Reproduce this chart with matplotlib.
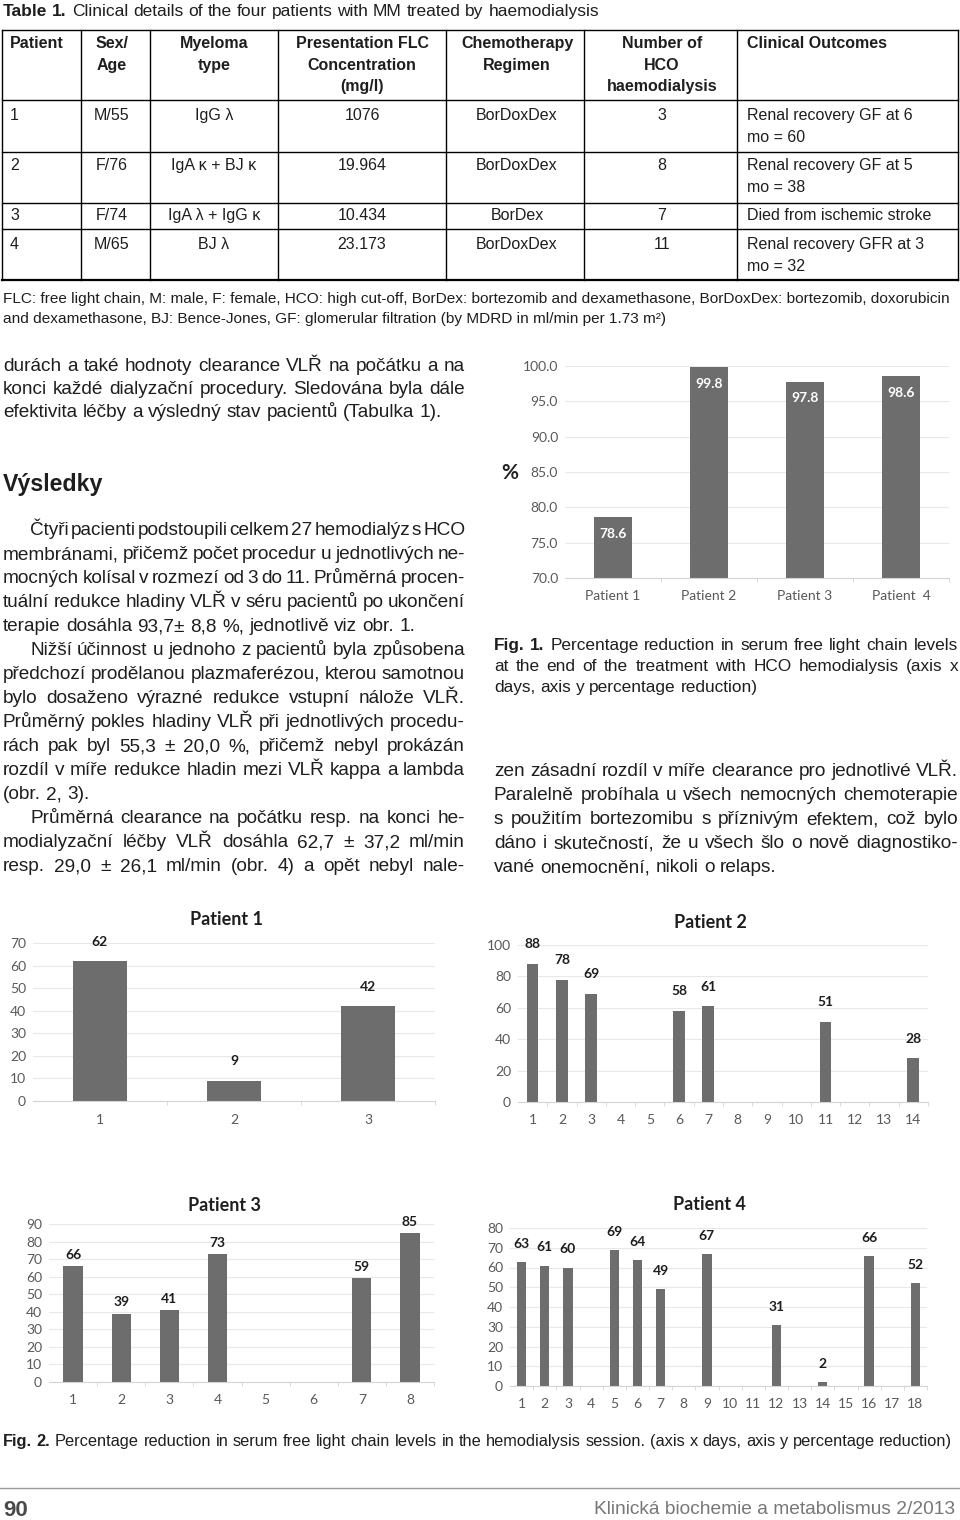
import matplotlib
matplotlib.use('Agg')
import matplotlib.pyplot as plt
from matplotlib.lines import Line2D
import numpy as np

# ---------------- data ----------------
fig1_labels = ['Patient 1', 'Patient 2', 'Patient 3', 'Patient  4']
fig1_values = [78.6, 99.8, 97.8, 98.6]

# percentage reduction per session day (None = no session that day)
p1_values = [62, 9, 42]
p2_values = [88, 78, 69, None, None, 58, 61, None, None, None, 51, None, None, 28]
p3_values = [66, 39, 41, 73, None, None, 59, 85]
p4_values = [63, 61, 60, None, 69, 64, 49, None, 67, None, None, 31, None, 2, None, 66, None, 52]

tab_header = [['Patient'], ['Sex/', 'Age'], ['Myeloma', 'type'],
              ['Presentation FLC', 'Concentration', '(mg/l)'],
              ['Chemotherapy', 'Regimen'], ['Number of', 'HCO', 'haemodialysis'],
              ['Clinical Outcomes']]
tab_patient = ['1', '2', '3', '4']
tab_sex_age = ['M/55', 'F/76', 'F/74', 'M/65']
tab_myeloma = ['IgG λ', 'IgA κ + BJ κ', 'IgA λ + IgG κ', 'BJ λ']
tab_flc = ['1076', '19.964', '10.434', '23.173']
tab_regimen = ['BorDoxDex', 'BorDoxDex', 'BorDex', 'BorDoxDex']
tab_hco = ['3', '8', '7', '11']
tab_outcome = [['Renal recovery GF at 6', 'mo = 60'], ['Renal recovery GF at 5', 'mo = 38'],
               ['Died from ischemic stroke'], ['Renal recovery GFR at 3', 'mo = 32']]

text_top = ['durách a také hodnoty clearance VLŘ na počátku a na',
            'konci každé dialyzační procedury. Sledována byla dále',
            'efektivita léčby a výsledný stav pacientů (Tabulka 1).']
text_left = ['Čtyři pacienti podstoupili celkem 27 hemodialýz s HCO',
             'membránami, přičemž počet procedur u jednotlivých ne-',
             'mocných kolísal v rozmezí od 3 do 11. Průměrná procen-',
             'tuální redukce hladiny VLŘ v séru pacientů po ukončení',
             'terapie dosáhla 93,7± 8,8 %, jednotlivě viz obr. 1.',
             'Nižší účinnost u jednoho z pacientů byla způsobena',
             'předchozí prodělanou plazmaferézou, kterou samotnou',
             'bylo dosaženo výrazné redukce vstupní nálože VLŘ.',
             'Průměrný pokles hladiny VLŘ při jednotlivých procedu-',
             'rách pak byl 55,3 ± 20,0 %, přičemž nebyl prokázán',
             'rozdíl v míře redukce hladin mezi VLŘ kappa a lambda',
             '(obr. 2, 3).',
             'Průměrná clearance na počátku resp. na konci he-',
             'modialyzační léčby VLŘ dosáhla 62,7 ± 37,2 ml/min',
             'resp. 29,0 ± 26,1 ml/min (obr. 4) a opět nebyl nale-']
left_indent = [0, 5, 12]
left_last = [4, 11]
fig1_caption = ['Fig. 1. Percentage reduction in serum free light chain levels',
                'at the end of the treatment with HCO hemodialysis (axis x',
                'days, axis y percentage reduction)']
text_right = ['zen zásadní rozdíl v míře clearance pro jednotlivé VLŘ.',
              'Paralelně probíhala u všech nemocných chemoterapie',
              's použitím bortezomibu s příznivým efektem, což bylo',
              'dáno i skutečností, že u všech šlo o nově diagnostiko-',
              'vané onemocnění, nikoli o relaps.']

# ---------------- page ----------------
W, H = 960, 1520
PX = 100 / 72
INK = '#1e1e1e'
BAR = '#6d6d6d'
GRID = '#e8e8e8'
TICK = '#595959'
SANS = ['Liberation Sans', 'DejaVu Sans']
NARROW = ['Liberation Sans Narrow', 'Liberation Sans', 'DejaVu Sans']
CHART = ['Lato', 'DejaVu Sans']

fig = plt.figure(figsize=(9.6, 15.2), dpi=100)
fig.patch.set_facecolor('white')
R = fig.canvas.get_renderer()


def put(x, y, s, size, ha='left', bold=False, fam=SANS, color=INK):
    base = y + 0.34 * size * PX
    return fig.text(x / W, 1 - base / H, s, fontsize=size, ha=ha, va='baseline',
                    fontweight='bold' if bold else 'normal', family=fam, color=color)


def wid(t):
    return t.get_window_extent(renderer=R).width


def line(x, y, words, size, x1=None, nbold=0, fam=SANS, color=INK):
    # words placed one by one; justified to x1 when given
    ts = [put(x, y, w, size, bold=i < nbold, fam=fam, color=color) for i, w in enumerate(words)]
    ws = [wid(t) for t in ts]
    gap = 0.28 * size * PX
    if x1 is not None and len(ts) > 1:
        gap = max((x1 - x - sum(ws)) / (len(ts) - 1), 0.1 * size * PX)
    cx = x
    for t, w in zip(ts, ws):
        t.set_x(cx / W)
        cx += w + gap
    return ts


def fit_size(s, target, size=12, fam=SANS, bold=False):
    t = put(0, 0, s, size, fam=fam, bold=bold)
    w = wid(t)
    t.remove()
    return size * target / w


def hline(y, x0, x1, lw=1.0, color='black'):
    fig.add_artist(Line2D([x0 / W, x1 / W], [1 - y / H, 1 - y / H], lw=lw, color=color))


def vline(x, y0, y1, lw=1.0, color='black'):
    fig.add_artist(Line2D([x / W, x / W], [1 - y0 / H, 1 - y1 / H], lw=lw, color=color))


# ---- table title ----
cap = 'Table 1. Clinical details of the four patients with MM treated by haemodialysis'
sz = fit_size(cap, 595, fam=NARROW)
line(3, 10, cap.split(), sz, nbold=2, fam=NARROW)

# ---- table ----
for y in [30, 100, 152, 203, 229]:
    hline(y, 2, 958)
hline(280, 2, 958, lw=1.6)
for x in [2, 81, 150, 278, 446, 584, 737, 958]:
    vline(x, 30, 280)

col_pos = [(10, 'left'), (112, 'center'), (214, 'center'), (362, 'center'),
           (517, 'center'), (662, 'center'), (747, 'left')]
TS = 11.5
for (cx, ha), rows in zip(col_pos, tab_header):
    for i, s in enumerate(rows):
        put(cx, 43 + i * 21.5, s, TS, ha=ha, bold=True)

row_y = [115, 165, 215, 244]
cols = [tab_patient, tab_sex_age, tab_myeloma, tab_flc, tab_regimen, tab_hco]
for r, y in enumerate(row_y):
    for (cx, ha), c in zip(col_pos[:6], cols):
        put(cx, y, c[r], TS, ha=ha)
    for i, s in enumerate(tab_outcome[r]):
        put(747, y + i * 22, s, TS)

note1 = ('FLC: free light chain, M: male, F: female, HCO: high cut-off, BorDex: bortezomib and '
         'dexamethasone, BorDoxDex: bortezomib, doxorubicin')
note2 = 'and dexamethasone, BJ: Bence-Jones, GF: glomerular filtration (by MDRD in ml/min per 1.73 m²)'
sz = fit_size(note1, 952, fam=NARROW)
put(3, 298, note1, sz, fam=NARROW)
put(3, 318, note2, sz, fam=NARROW)

# ---- body text ----
body = fit_size(text_top[2], 442)
for i, s in enumerate(text_top):
    line(3, 365 + i * 23, s.split(), body, x1=None if i == 2 else 465)

put(3, 483, 'Výsledky', body * 1.22, bold=True)

for i, s in enumerate(text_left):
    x0 = 30 if i in left_indent else 3
    line(x0, 529 + i * 24, s.split(), body, x1=None if i in left_last else 465)

capsz = fit_size(fig1_caption[2], 263)
for i, s in enumerate(fig1_caption):
    line(494, 644 + i * 21, s.split(), capsz, x1=None if i == 2 else 958, nbold=2 if i == 0 else 0)

for i, s in enumerate(text_right):
    line(494, 770 + i * 24, s.split(), body, x1=None if i == 4 else 958)

cap2 = ('Fig. 2. Percentage reduction in serum free light chain levels in the hemodialysis session. '
        '(axis x days, axis y percentage reduction)')
sz = fit_size(cap2, 945, fam=NARROW)
line(3, 1440, cap2.split(), sz, nbold=2, fam=NARROW)

# ---- footer ----
hline(1488, 0, 960, lw=1.0, color='#9a9a9a')
put(3, 1508, '90', 16, bold=True, color='#4a4a4a')
jr = 'Klinická biochemie a metabolismus 2/2013'
put(955, 1508, jr, fit_size(jr, 362, fam=NARROW), ha='right', fam=NARROW, color='#777777')


# ---------------- charts ----------------
TK = 10


def ax_px(x0, x1, ytop, ybot):
    return fig.add_axes([x0 / W, 1 - ybot / H, (x1 - x0) / W, (ybot - ytop) / H])


def style(ax, n, ylo, yhi, step, fmt='{:.0f}'):
    ax.set_xlim(-0.5, n - 0.5)
    ax.set_ylim(ylo, yhi)
    yt = np.arange(ylo, yhi + step / 2, step)
    ax.set_yticks(yt)
    ax.set_yticklabels([fmt.format(v) for v in yt])
    ax.set_xticks(np.arange(n) + 0.5, minor=True)
    ax.grid(axis='y', color=GRID, lw=0.8)
    ax.set_axisbelow(True)
    for s in ['top', 'right', 'left']:
        ax.spines[s].set_visible(False)
    ax.spines['bottom'].set_color('#d4d4d4')
    ax.tick_params(axis='both', which='major', length=0, colors=TICK, labelsize=TK)
    ax.tick_params(axis='x', which='major', pad=9)
    ax.tick_params(axis='y', which='major', pad=5)
    ax.tick_params(axis='x', which='minor', length=3, color='#d4d4d4')
    for lab in ax.get_xticklabels() + ax.get_yticklabels():
        lab.set_family(CHART)
    ax.patch.set_alpha(0)


# Fig. 1
ax = ax_px(565, 949, 366, 578)
xi = np.arange(len(fig1_values))
ax.bar(xi, fig1_values, width=0.4, color=BAR, zorder=2)
for x, v in zip(xi, fig1_values):
    ax.annotate(f'{v:.1f}', (x, v), xytext=(0, -12), textcoords='offset points', ha='center',
                va='center', fontsize=10, fontweight='bold', family=CHART, color='white')
style(ax, len(fig1_values), 70, 100, 5, '{:.1f}')
ax.set_xticks(xi)
ax.set_xticklabels(fig1_labels)
for lab in ax.get_xticklabels():
    lab.set_family(CHART)
put(510, 472, '%', 15, ha='center', bold=True, fam=CHART, color='#222222')


def session_chart(rect, title, title_xy, vals, ymax, step, pad):
    ax = ax_px(*rect)
    days = np.arange(1, len(vals) + 1)
    heights = [0 if v is None else v for v in vals]
    ax.bar(days - 1, heights, width=0.4, color=BAR, lw=0, zorder=2)
    for d, v in zip(days, vals):
        if v is not None:
            ax.annotate(str(v), (d - 1, v), xytext=(0, pad), textcoords='offset points',
                        ha='center', va='center', fontsize=10, fontweight='bold',
                        family=CHART, color=INK)
    style(ax, len(vals), 0, ymax, step)
    ax.set_xticks(days - 1)
    ax.set_xticklabels([str(d) for d in days])
    for lab in ax.get_xticklabels():
        lab.set_family(CHART)
    put(title_xy[0], title_xy[1], title, 13, ha='center', bold=True, fam=CHART)


session_chart((33, 435, 943, 1101), 'Patient 1', (226, 919), p1_values, 70, 10, 14)
session_chart((518, 928, 945, 1102), 'Patient 2', (710, 922), p2_values, 100, 20, 14)
session_chart((49, 434, 1224, 1382), 'Patient 3', (225, 1205), p3_values, 90, 10, 8)
session_chart((510, 927, 1228, 1386), 'Patient 4', (709, 1204), p4_values, 80, 10, 13)

fig.savefig('out.png', dpi=100, facecolor='white')
